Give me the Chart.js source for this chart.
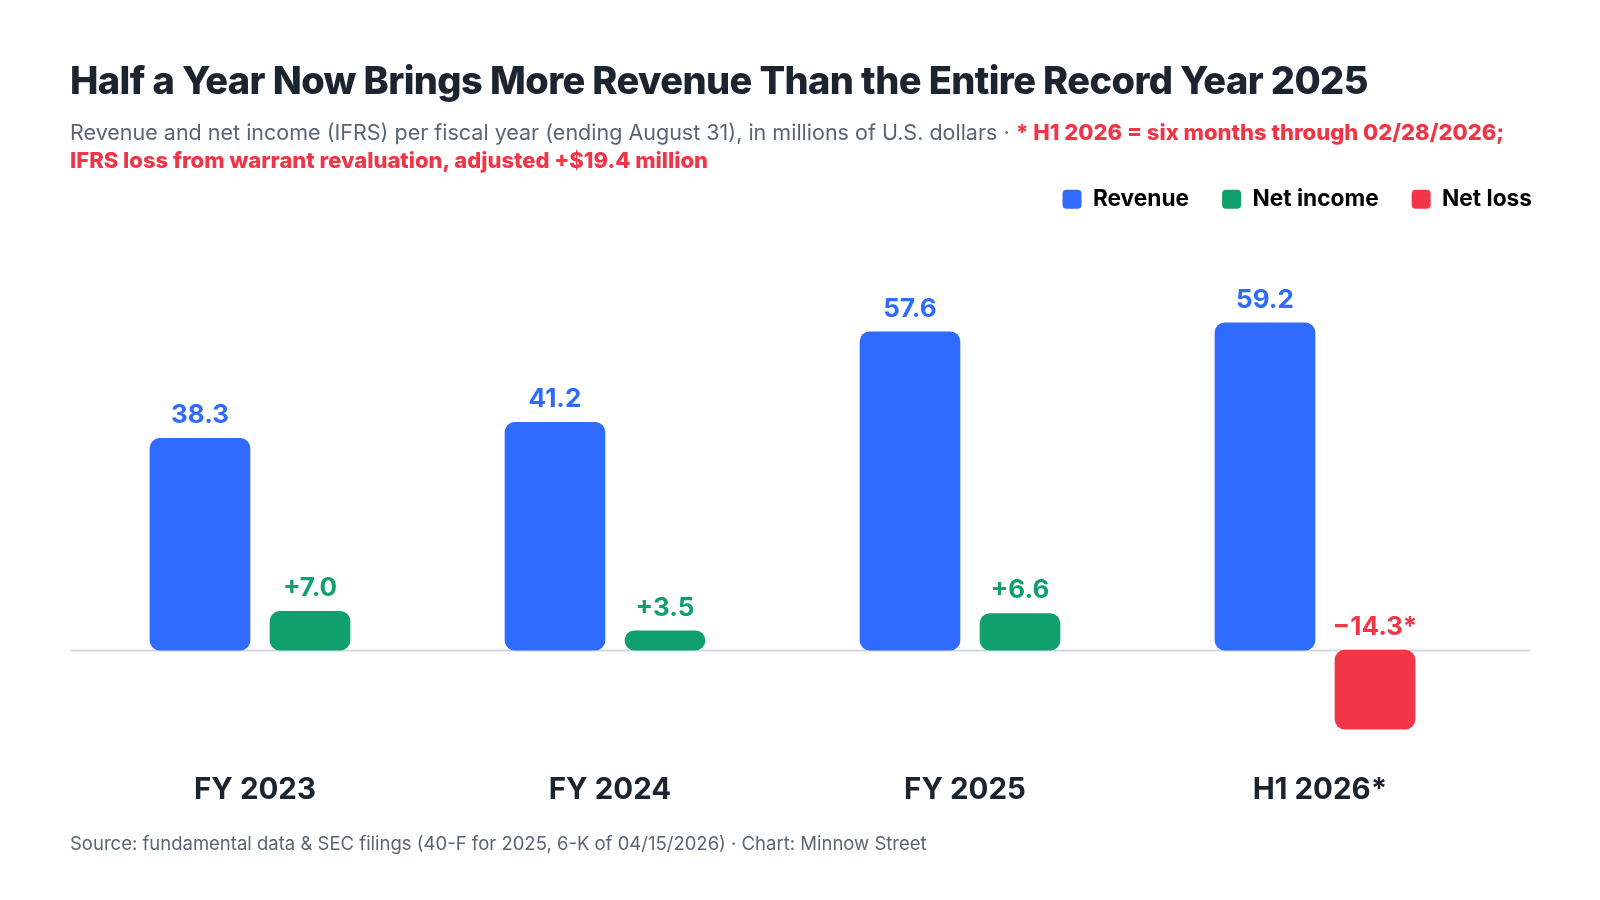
<!DOCTYPE html>
<html lang="en">
<head>
  <meta charset="UTF-8" />
  <title>Revenue vs Net Income | Minnow Street</title>
  <script src="https://cdn.jsdelivr.net/npm/chart.js"></script>
  <style>
    html, body {
      margin: 0;
      padding: 0;
      background: #fff;
      font-family: Inter, "Noto Sans", Arial, sans-serif;
    }
    .page {
      position: relative;
      width: 1600px;
      height: 900px;
      overflow: hidden;
    }
    .title {
      position: absolute;
      left: 70px;
      top: 61px;
      margin: 0;
      font-size: 38px;
      line-height: 38px;
      font-weight: 800;
      letter-spacing: -0.6px;
      color: #1c2430;
    }
    .subtitle {
      position: absolute;
      left: 70px;
      top: 118px;
      width: 1470px;
      margin: 0;
      font-size: 21.5px;
      line-height: 28px;
      color: #5b6574;
    }
    .subtitle .note {
      color: #f03546;
      font-size: 22px;
      font-weight: 800;
    }
    .source {
      position: absolute;
      left: 70px;
      top: 831px;
      font-size: 18.5px;
      line-height: 24px;
      color: #5b6574;
    }
    canvas {
      position: absolute;
      left: 0;
      top: 0;
    }
  </style>
</head>
<body>
  <div class="page">
    <canvas id="barChart" width="1600" height="900"></canvas>
    <h1 class="title">Half a Year Now Brings More Revenue Than the Entire Record Year 2025</h1>
    <p class="subtitle">Revenue and net income (IFRS) per fiscal year (ending August 31), in millions of U.S. dollars · <span class="note">* H1 2026 = six months through 02/28/2026; IFRS loss from warrant revaluation, adjusted +$19.4 million</span></p>
    <div class="source">Source: fundamental data &amp; SEC filings (40-F for 2025, 6-K of 04/15/2026) · Chart: Minnow Street</div>
  </div>

  <script>
    // data (USD millions)
    const categories = ['FY 2023', 'FY 2024', 'FY 2025', 'H1 2026*'];
    const revenue = [38.3, 41.2, 57.6, 59.2];
    const netIncome = [7.0, 3.5, 6.6, -14.3];
    const netNotes = ['', '', '', '*'];

    const BLUE = '#2f6bff';
    const GREEN = '#10a06e';
    const RED = '#f23648';
    const DARK = '#1c2430';

    const netColor = v => (v < 0 ? RED : GREEN);

    // zero baseline, a bit wider than the bars area
    const zeroLine = {
      id: 'zeroLine',
      beforeDatasetsDraw(chart) {
        const { ctx, chartArea, scales } = chart;
        const y = Math.round(scales.y.getPixelForValue(0)) + 0.5;
        ctx.save();
        ctx.strokeStyle = '#d3d8e2';
        ctx.lineWidth = 2;
        ctx.beginPath();
        ctx.moveTo(chartArea.left - 2, y);
        ctx.lineTo(chartArea.right + 38, y);
        ctx.stroke();
        ctx.restore();
      }
    };

    // value labels above bars
    const valueLabels = {
      id: 'valueLabels',
      afterDatasetsDraw(chart) {
        const { ctx, scales } = chart;
        const zeroY = scales.y.getPixelForValue(0);
        ctx.save();
        ctx.font = '700 26px Inter, "Noto Sans", sans-serif';
        ctx.textAlign = 'center';
        ctx.textBaseline = 'middle';
        chart.data.datasets.forEach((ds, di) => {
          chart.getDatasetMeta(di).data.forEach((bar, i) => {
            const v = ds.data[i];
            let txt, color;
            if (di === 0) {
              txt = v.toFixed(1);
              color = BLUE;
            } else {
              txt = (v < 0 ? '\u2212' : '+') + Math.abs(v).toFixed(1) + netNotes[i];
              color = netColor(v);
            }
            const top = v < 0 ? zeroY : bar.y;
            ctx.fillStyle = color;
            ctx.fillText(txt, bar.x, top - 23);
          });
        });
        ctx.restore();
      }
    };

    const ctx = document.getElementById('barChart').getContext('2d');
    new Chart(ctx, {
      type: 'bar',
      data: {
        labels: categories,
        datasets: [
          {
            label: 'Revenue',
            data: revenue,
            backgroundColor: BLUE,
            barThickness: 100,
            borderRadius: 10,
            borderSkipped: false
          },
          {
            label: 'Net income',
            data: netIncome,
            backgroundColor: c => netColor(c.raw),
            barThickness: 120,     // slot width, leaves a 20px gap
            maxBarThickness: 80,
            borderRadius: 10,
            borderSkipped: false
          }
        ]
      },
      options: {
        responsive: false,
        animation: false,
        layout: {
          padding: { left: 72.5, right: 35, top: 155, bottom: 80 }
        },
        plugins: {
          tooltip: { enabled: false },
          legend: {
            position: 'top',
            align: 'end',
            labels: {
              boxWidth: 19,
              boxHeight: 19,
              useBorderRadius: true,
              borderRadius: 4,
              padding: 33,
              color: DARK,
              font: { family: 'Inter', size: 22.7, weight: '700' },
              generateLabels: () => [
                { text: 'Revenue', fillStyle: BLUE, strokeStyle: BLUE, lineWidth: 0, borderRadius: 4 },
                { text: 'Net income', fillStyle: GREEN, strokeStyle: GREEN, lineWidth: 0, borderRadius: 4 },
                { text: 'Net loss', fillStyle: RED, strokeStyle: RED, lineWidth: 0, borderRadius: 4 }
              ]
            }
          }
        },
        scales: {
          x: {
            grid: { display: false, drawTicks: false },
            border: { display: false },
            ticks: {
              padding: 12,
              labelOffset: 5,
              color: DARK,
              font: { family: 'Inter', size: 29.5, weight: '700', lineHeight: 1.2 }
            }
          },
          y: {
            position: 'right',
            min: -20,
            max: 77.7,
            grid: { display: false },
            border: { display: false },
            ticks: { display: false },
            afterFit(scale) { scale.width = 72.5; }
          }
        }
      },
      plugins: [zeroLine, valueLabels]
    });
  </script>
</body>
</html>
